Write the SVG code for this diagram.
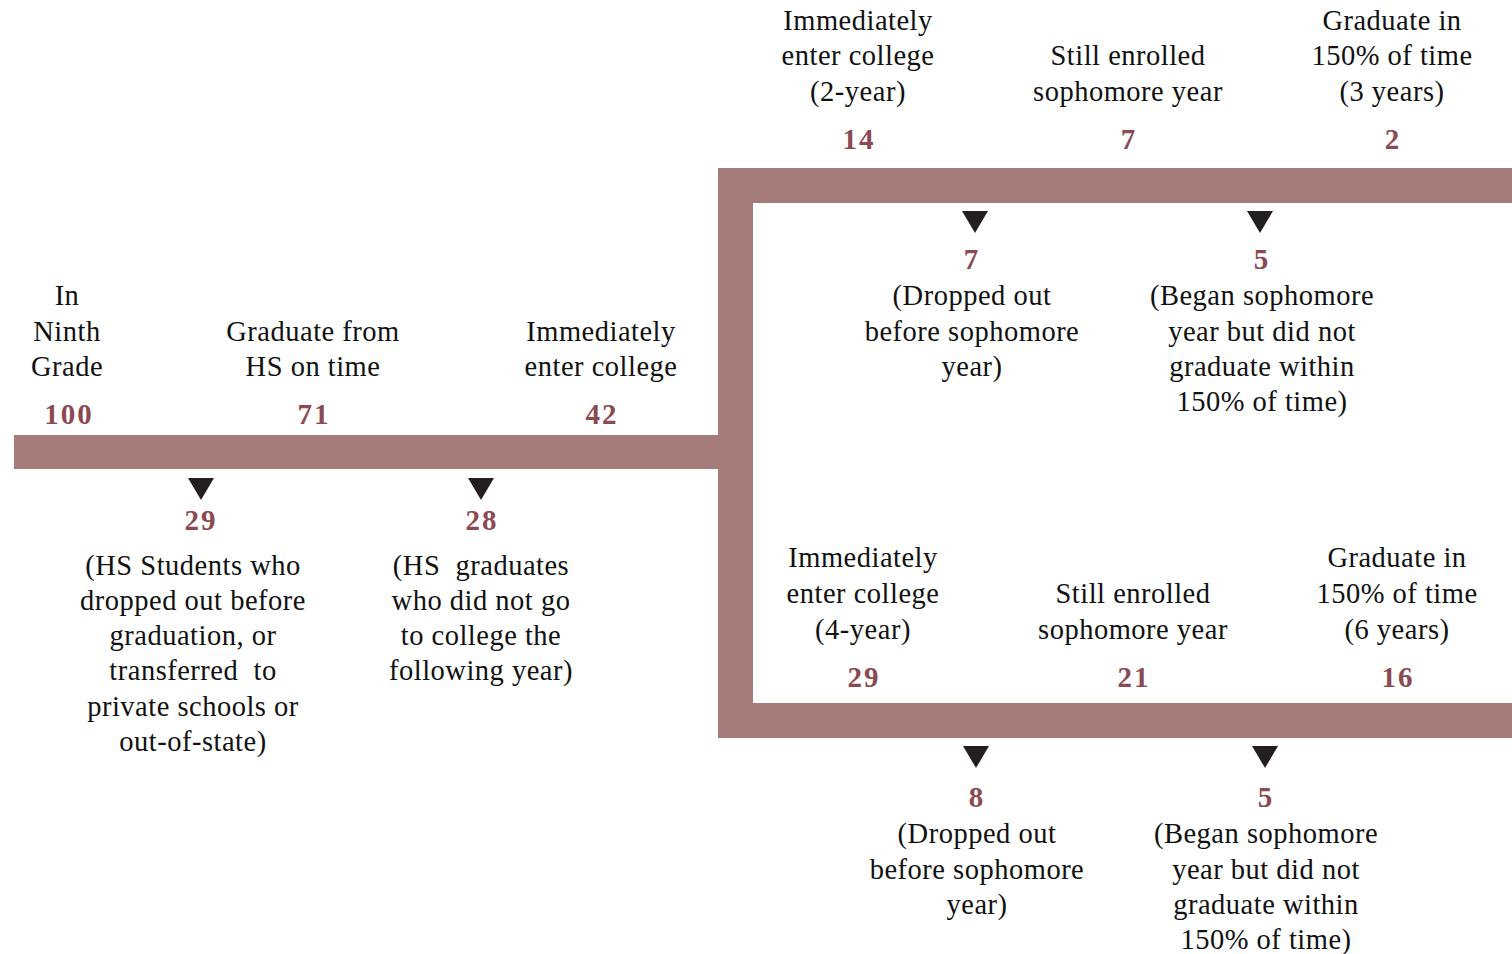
<svg xmlns="http://www.w3.org/2000/svg" width="1512" height="954" viewBox="0 0 1512 954">
<style>
.t{font-family:"Liberation Serif","Times New Roman",serif;font-size:28.5px;letter-spacing:0.5px;fill:#111;text-anchor:middle}
.n{font-family:"Liberation Serif","Times New Roman",serif;font-size:29px;font-weight:bold;fill:#8b4a52;text-anchor:middle;letter-spacing:2px}
.bar{fill:#a57b7a}
.tri{fill:#231f20}
</style>
<defs>
<path id="tri" d="M-13,0 L13,0 L0,22 Z"/>
</defs>
<rect width="1512" height="954" fill="#fff"/>
<g id="connectors">
<rect class="bar" x="14" y="435" width="720" height="34"/>
<rect class="bar" x="718" y="168" width="35" height="570"/>
<rect class="bar" x="718" y="168" width="794" height="35"/>
<rect class="bar" x="718" y="703" width="794" height="35"/>
<use href="#tri" class="tri" x="201" y="478"/>
<use href="#tri" class="tri" x="481" y="478"/>
<use href="#tri" class="tri" x="975" y="211"/>
<use href="#tri" class="tri" x="1260" y="211"/>
<use href="#tri" class="tri" x="976" y="746"/>
<use href="#tri" class="tri" x="1265" y="746"/>
</g>
<g id="ninth">
<text class="t" x="67" y="305">In</text>
<text class="t" x="67" y="341">Ninth</text>
<text class="t" x="67" y="376">Grade</text>
<text class="n" x="69" y="424">100</text>
</g>
<g id="hsgrad">
<text class="t" x="313" y="341">Graduate from</text>
<text class="t" x="313" y="376">HS on time</text>
<text class="n" x="314" y="424">71</text>
</g>
<g id="college">
<text class="t" x="601" y="341">Immediately</text>
<text class="t" x="601" y="376">enter college</text>
<text class="n" x="602" y="424">42</text>
</g>
<g id="dropout">
<text class="n" x="201" y="530">29</text>
<text class="t" x="193" y="575">(HS Students who</text>
<text class="t" x="193" y="610">dropped out before</text>
<text class="t" x="193" y="645">graduation, or</text>
<text class="t" x="193" y="680" xml:space="preserve">transferred  to</text>
<text class="t" x="193" y="716">private schools or</text>
<text class="t" x="193" y="751">out-of-state)</text>
</g>
<g id="nocollege">
<text class="n" x="482" y="530">28</text>
<text class="t" x="481" y="575" xml:space="preserve">(HS  graduates</text>
<text class="t" x="481" y="610">who did not go</text>
<text class="t" x="481" y="645">to college the</text>
<text class="t" x="481" y="680">following year)</text>
</g>
<g id="twoyear">
<text class="t" x="858" y="30">Immediately</text>
<text class="t" x="858" y="65">enter college</text>
<text class="t" x="858" y="101">(2-year)</text>
<text class="n" x="859" y="149">14</text>
</g>
<g id="twoyear-enrolled">
<text class="t" x="1128" y="65">Still enrolled</text>
<text class="t" x="1128" y="101">sophomore year</text>
<text class="n" x="1129" y="149">7</text>
</g>
<g id="twoyear-grad">
<text class="t" x="1392" y="30">Graduate in</text>
<text class="t" x="1392" y="65">150% of time</text>
<text class="t" x="1392" y="101">(3 years)</text>
<text class="n" x="1393" y="149">2</text>
</g>
<g id="twoyear-dropped">
<text class="n" x="972" y="269">7</text>
<text class="t" x="972" y="305">(Dropped out</text>
<text class="t" x="972" y="341">before sophomore</text>
<text class="t" x="972" y="376">year)</text>
</g>
<g id="twoyear-nograd">
<text class="n" x="1262" y="269">5</text>
<text class="t" x="1262" y="305">(Began sophomore</text>
<text class="t" x="1262" y="341">year but did not</text>
<text class="t" x="1262" y="376">graduate within</text>
<text class="t" x="1262" y="411">150% of time)</text>
</g>
<g id="fouryear">
<text class="t" x="863" y="567">Immediately</text>
<text class="t" x="863" y="603">enter college</text>
<text class="t" x="863" y="639">(4-year)</text>
<text class="n" x="864" y="687">29</text>
</g>
<g id="fouryear-enrolled">
<text class="t" x="1133" y="603">Still enrolled</text>
<text class="t" x="1133" y="639">sophomore year</text>
<text class="n" x="1134" y="687">21</text>
</g>
<g id="fouryear-grad">
<text class="t" x="1397" y="567">Graduate in</text>
<text class="t" x="1397" y="603">150% of time</text>
<text class="t" x="1397" y="639">(6 years)</text>
<text class="n" x="1398" y="687">16</text>
</g>
<g id="fouryear-dropped">
<text class="n" x="977" y="807">8</text>
<text class="t" x="977" y="843">(Dropped out</text>
<text class="t" x="977" y="879">before sophomore</text>
<text class="t" x="977" y="914">year)</text>
</g>
<g id="fouryear-nograd">
<text class="n" x="1266" y="807">5</text>
<text class="t" x="1266" y="843">(Began sophomore</text>
<text class="t" x="1266" y="879">year but did not</text>
<text class="t" x="1266" y="914">graduate within</text>
<text class="t" x="1266" y="949">150% of time)</text>
</g>
</svg>
